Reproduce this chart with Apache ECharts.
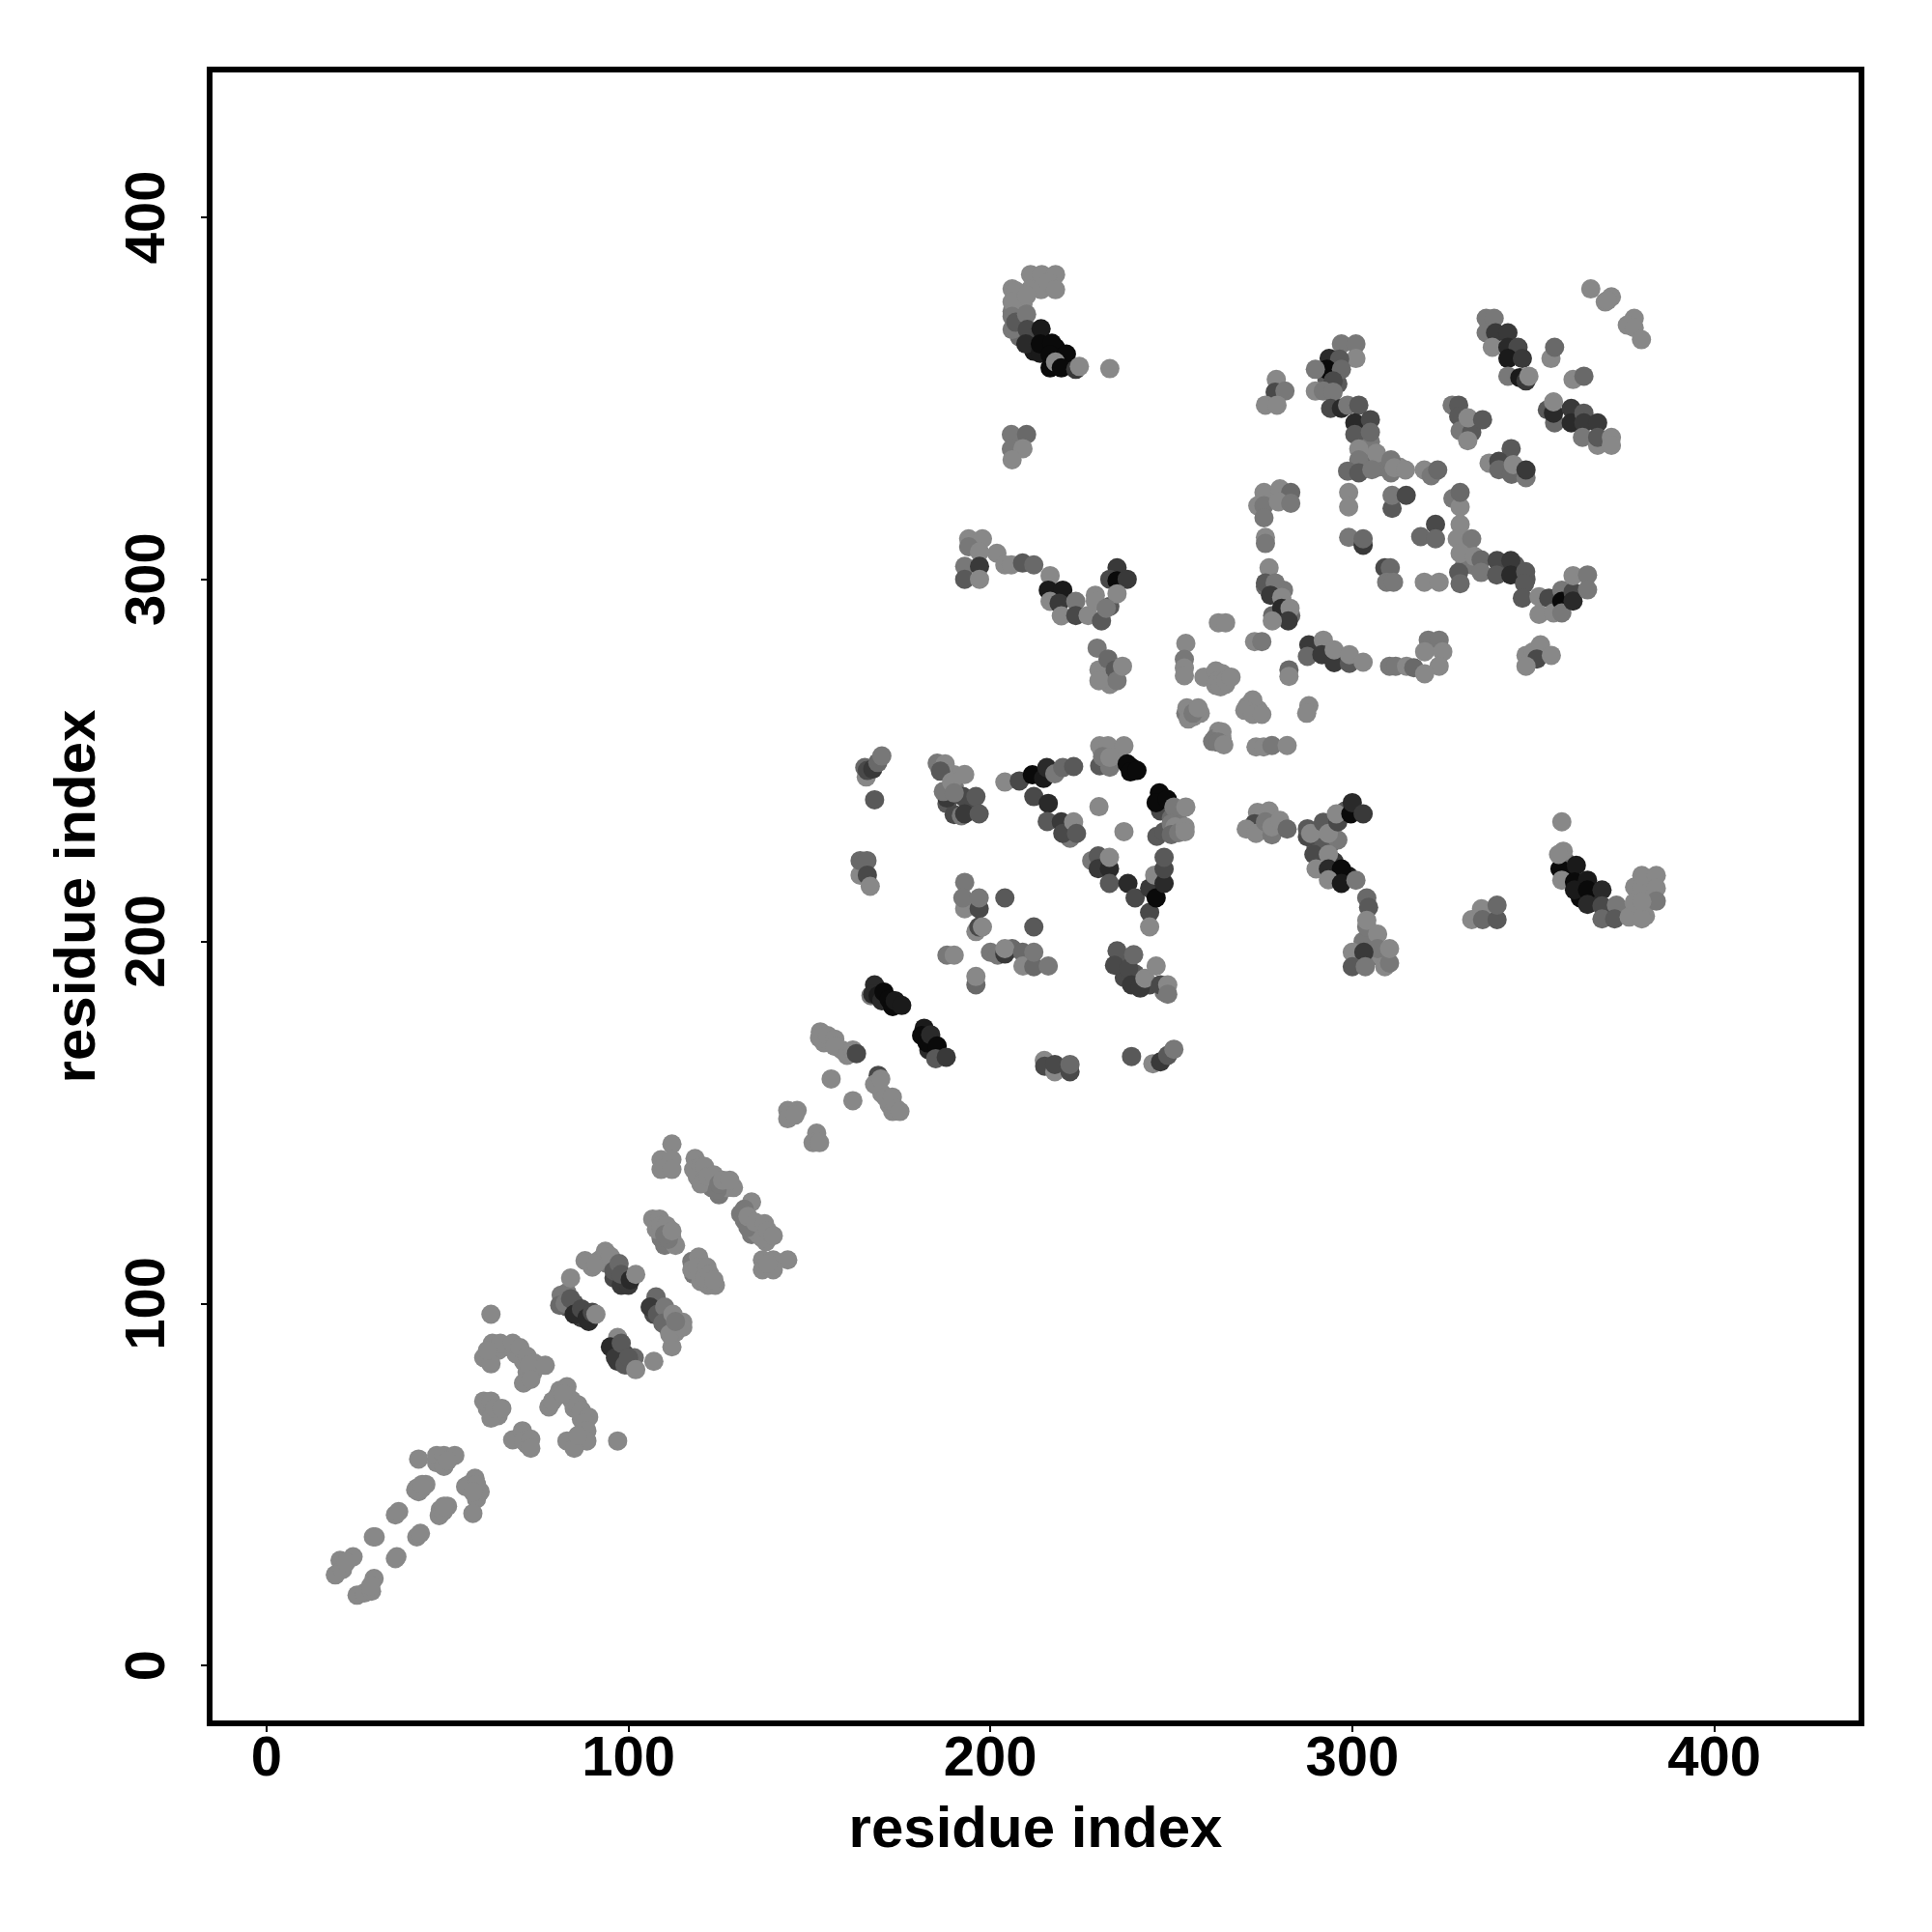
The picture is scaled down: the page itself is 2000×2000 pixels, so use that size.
<!DOCTYPE html>
<html>
<head>
<meta charset="utf-8">
<script src="https://cdn.jsdelivr.net/npm/echarts@6/dist/echarts.min.js"></script>
<style>html,body{margin:0;padding:0;background:#fff}#c{width:2000px;height:2000px}</style>
</head>
<body>
<div id="c"></div>
<script>
// each contact: [residue i, residue j, strength 0 (weak, grey) .. 8 (strong, black)]
const overlapped = [[47,56,0],[50,57,0],[42,48,0],[43,49,0],[48,43,0],[56,50,0],[58,46,0],[64,87,0],[66,88,0],[69,86,0],[71,84,0],[72,81,0],[73,83,0],[61,71,0],[64,69,0],[70,63,0],[72,61,0],[81,76,0],[85,71,0],[87,68,0],[88,66,0],[87,63,0],[83,103,1],[83,99,3],[85,100,3],[87,96,5],[89,95,6],[90,110,0],[92,112,0],[94,111,1],[96,107,4],[98,105,5],[100,105,5],[96,87,5],[97,84,5],[99,86,4],[100,83,3],[107,97,4],[109,96,3],[111,93,1],[113,92,0],[108,122,0],[109,118,1],[110,116,1],[112,118,0],[113,116,0],[118,108,1],[120,109,0],[120,106,0],[122,105,0],[124,105,0],[119,135,0],[121,134,1],[123,132,1],[125,130,1],[127,132,0],[129,132,0],[132,123,1],[134,119,1],[135,120,0],[136,119,0],[138,117,0],[154,172,0],[159,170,0],[170,158,0],[172,155,0],[209,376,0],[206,374,1],[208,367,2],[212,367,6],[212,363,7],[218,364,8],[221,359,8],[207,338,1],[259,273,0],[263,273,0],[264,272,0],[264,274,0],[265,271,0],[254,263,1],[255,262,0],[256,262,0],[258,263,0],[271,265,0],[272,264,0],[273,264,0],[274,264,0],[263,256,0],[264,256,0],[263,258,0],[262,256,1],[281,293,3],[278,290,2],[279,297,2],[281,297,1],[283,290,2],[276,298,2],[304,335,1],[303,332,2],[307,331,1],[309,331,1],[313,331,0],[305,338,1],[293,355,3],[296,354,3],[331,309,0],[332,308,0],[333,304,1],[335,303,1],[331,304,1],[342,303,3],[345,304,3],[348,300,3],[290,229,3],[291,231,1],[294,227,3],[296,228,1],[298,236,3],[290,226,3],[295,222,5],[295,219,7],[299,218,7],[378,215,0],[378,208,0],[382,213,0],[383,216,0],[375,208,0],[381,207,0],[359,219,8],[359,222,2],[363,212,8],[367,212,6],[371,208,4],[231,252,2],[232,249,3],[235,252,0],[239,248,8],[247,240,8],[247,236,4],[250,234,2],[246,229,3],[252,233,1],[303,200,1],[306,196,1],[308,196,0],[309,193,0],[236,194,3],[240,191,3],[244,188,4],[237,190,4],[248,186,1],[190,243,1],[188,238,3],[190,235,4],[194,238,4],[190,246,0],[200,197,1],[206,198,2]];
const helixStart = [[19,25,0],[20.3,29,0],[21,26.5,0],[23.9,30,0],[22,28.5,0],[25,19.4,0],[27,20,0],[29,20.5,0],[29.7,24,0],[28.8,22,0],[35.6,29.5,0],[36,30,0],[29.5,35.5,0],[30,35.5,0],[35.6,41.6,0],[36.5,42.5,0],[41.5,35.5,0],[42.5,36.5,0],[42,57,0],[47,58,0],[49,58,0],[52,58,0],[49,55,0],[50,56.5,0],[41.6,49,0],[44,50,0],[41.2,48.5,0],[43,50,0],[47.7,41.4,0],[50,44,0],[48.8,42.5,0],[49,44,0],[57,42,0],[57.6,51.7,0],[55,49.4,0],[59,48,0],[58,50,0],[57,48,0]];
const blockA = [[62,97,0],[62.4,89,0],[64.6,89,0],[60,85,0],[62,83.3,0],[61,87,0],[68,89,0],[70,87.8,0],[72,85.4,0],[74,83.5,0],[71,78,0],[73.5,80.7,0],[72.5,83,0],[73,79,0],[77,82.9,0],[60,73,0],[62,73,0],[62,68.3,0],[63,71,0],[65,71,0],[68,62.3,0],[70.7,64.8,0],[71,62,0],[73,62.5,0],[73,60,0],[83,77,0],[80.5,74.6,0],[78,71.4,0],[79,73,0],[84.3,73.3,0],[82,75,0],[86,72,0],[87,70.4,0],[89,68.6,0],[88,67,0],[88.5,64.8,0],[88.5,62,0],[83,62,0],[85,60,0],[86,63.5,0],[97,62,0]];
const blockB = [[84,107,0],[81.4,102.3,1],[81,99.5,2],[82.5,100,1],[84,101.3,3],[85,97,6],[87,98.5,4],[88.5,96,6],[90,97.5,4],[91,97,0],[88,111.8,0],[91,111,0],[93.6,114.4,0],[95,113,0],[96,109,3],[97.4,111,2],[99,106.5,5],[98,108,3],[100.5,106.5,6],[102,108,0],[97,90.6,0],[95,88,6],[96.4,85,5],[98,89,3],[99,83,3],[101.6,85,2],[100,85,3],[102,81.7,0],[107,84,0],[107.6,101.8,2],[106,99,5],[108,97,3],[110,99,1],[109.5,94.5,2],[112.3,97,0],[112,88,0],[111.4,91.5,0],[115,94.8,0],[115,93.4,0],[113,95,1]];
const blockC = [[106.7,123.3,0],[108.6,123.3,0],[107.7,120.5,0],[109,121.5,0],[110.5,121.5,0],[111,117.7,1],[110,119,1],[112,120,0],[117.5,111.6,1],[119.4,112.8,0],[117.5,109.3,0],[119,110,0],[121,107,0],[121.7,110,0],[122.5,108,0],[123.6,106.5,0],[112,144,0],[109,139.7,0],[112,139.7,0],[109,137,0],[112,137,0],[118.4,140,0],[118,137,0],[120,133,0],[120,138,0],[121,137.8,0],[122,135,0],[124.5,131.3,1],[123.6,135.5,0],[125,133,1],[126,134,0],[128,134,0],[134,128,0],[131,124.7,1],[132,126,1],[133,121,1],[133,124,0],[135,122.4,0],[137,118,0],[137.6,122,0],[138.5,120,0],[140,118.7,0],[137,112,0],[140,112,0],[144,112,0],[137,109.3,0],[140,109.3,0],[138.5,111,0]];
const blockD = [[144,153.3,0],[146.6,153.3,0],[144,151,0],[146,152,0],[152,147,0],[151,144.4,0],[152.8,144.4,0],[156,162,0],[162,156,0],[153,175,0],[152.8,173.3,0],[155,174,0],[157,173,0],[157,171,0],[160.4,168.5,0],[162,170,0],[163,169,4],[169,163,4],[168,160.5,0],[169.7,162,0],[171,157,0],[172.9,157,0],[173,153,0],[174,153.8,0],[175,153,0]];
const darkBars = [[167,185,1],[168,188,6],[167.5,185.4,6],[169,185,7],[170,183.6,6],[170.6,186,8],[172,184,8],[173,182,8],[173.7,183.6,7],[175.5,182.3,7],[181.7,176,7],[181,174,8],[183,170,6],[182.5,172,8],[183.5,174.2,6],[185.3,171.1,8],[184.9,167.6,3],[187.8,168,5]];
const upperA = [[165.7,245.4,0],[165.3,248,2],[166,247.2,4],[167.5,247.6,5],[168.9,249.4,2],[170,251.2,1],[168,239.1,3],[185.3,249.2,1],[187.5,249,0],[186.2,247,3],[192.9,246.1,0],[188,239.6,5],[192.4,240,4],[196,240,3],[192,234.7,1],[192.9,235.2,5],[196.9,235.2,3],[187,241.4,1],[189.3,244,0],[190,241,1],[204,244,0],[208,244.3,4],[211.6,246,8],[214.7,245,7],[215.6,248,6],[217.8,246.3,1],[220,248,2],[223,248.3,3],[212,240,4],[216,238.1,6],[215.7,233.1,3],[219.6,233,5],[222,228.5,1],[220,229.8,4],[223,233,0],[223.8,229.8,3],[230,237.2,0],[236.9,230.3,0]];
const upperB = [[230.2,248.5,3],[230.2,254,0],[232.5,254,0],[236.9,254,0],[231,251,1],[233,248.1,1],[233,250.8,0],[237.8,249,8],[238.7,246.8,8],[240.5,247.2,8],[246.7,241,8],[245.8,238.3,8],[248.9,239.2,8],[250.7,237.1,1],[254,237.1,0],[248,230.3,3],[250,232.5,1],[251,231.6,0],[250,229.5,2],[252,230,1],[253.8,231.6,0],[253.8,230.3,0],[228,222.3,1],[229.8,223.6,3],[229.8,220.1,5],[232.9,220.1,6],[232.9,223.2,0],[232.9,216,3],[238,216,6],[240,212,4],[244,208,4],[244,204,0],[244,214.7,5],[245.4,218.3,0],[245.8,212,8],[248,216,6],[248,220,4],[248,223.2,3]];
const midCluster = [[192.9,216.3,1],[192.9,209,0],[192.4,212,1],[196.9,209,4],[196.9,212,1],[204,212,3],[212,204,3],[196,202.7,0],[196.8,204,4],[197.8,204,0],[188,196.2,1],[190,196.2,0],[196,188,2],[196,190.3,0],[202,196.2,1],[204,196.5,5],[204,198,0],[208.9,197,2],[209,193.2,0],[212,193,2],[212,197,1],[216,193.2,1],[235,197.4,3],[234.3,193.4,4],[238.2,192.5,4],[239.6,196.3,2],[239,188,5],[241.4,187.1,5],[242.7,189.8,0],[245.8,193.2,0],[247,188,4],[249,188,0],[249,185.4,1],[164,218.3,0],[164,222.3,2],[165.9,222.3,2],[166,218.3,4],[166.8,215.2,0],[214.9,167.1,0],[215,165.5,4],[217.8,164,0],[217.8,166,4],[222,164,4],[222,166,2],[239,168.2,3],[244.9,166.2,0],[247,166.7,5],[249,168.5,3],[250.7,170.2,1]];
const topLeft = [[211.1,384.2,0],[214.2,384.2,0],[218,384.2,0],[211,380,0],[214,380,0],[216,382,0],[218,380,0],[206,380.2,0],[207,379.7,0],[206,376.6,0],[210,378.4,0],[206,372.6,1],[206,369,1],[207,371,3],[210,373.2,1],[210.2,369,4],[209.8,365,6],[214,369.2,7],[213.8,362.4,7],[213.8,365,8],[217,365.2,8],[216.5,362,8],[221,362.2,8],[216.5,358.4,8],[218,360,0],[219.6,358.4,8],[223.6,358,5],[224.6,358.8,0],[233,358.2,0],[205.8,340,1],[210,340,2],[205.8,336,1],[209,336.1,0],[206,333,0]];
const midLeft = [[194,311.2,0],[197.8,311.2,0],[194,309,1],[201.8,307.2,0],[197,307.6,0],[192.9,303.6,1],[197,303.6,5],[192.9,300,3],[197,300,0],[204,304,0],[205.8,304,0],[208.9,304.5,3],[212,304,2],[216.5,301,0],[216,297,7],[220,297,7],[216.5,293.9,0],[219,293.4,5],[223.6,293.9,1],[219.6,289.9,0],[223.6,290,4],[229,295.6,0],[227,290,0],[229,293.9,0],[230.7,288.5,3],[233,292.5,3],[235,303.2,5],[233,300,4],[235,299.6,8],[237.8,300,5],[235,296,0],[232,292,1],[233,271,0],[229.5,281,1],[230,275,0],[230,272,0],[232.5,278,2],[234.5,275,3],[235,272,1],[236.5,276,0]];
const ridge = [[279,355.2,0],[278.7,351.7,4],[281.4,352,1],[276,348.1,0],[279.2,348.1,0],[275.6,324,0],[280,325,0],[283,324,2],[273.9,320.3,0],[275.6,320.3,1],[279.6,321.4,0],[283,321,1],[275.6,317,1],[276,311.6,0],[276,309.9,1],[277,303.2,0],[276,299,3],[278.7,299,1],[277.4,295.6,5],[280.5,295,0],[280.5,292,6],[282.8,292,0],[282.3,288.5,5],[277.9,288.5,0]];
const diamond = [[263,288,0],[265,288,0],[254,282.3,0],[253.6,277.9,1],[253.6,275.5,0],[253.6,273.4,0],[273,282.8,0],[275,282.8,1],[262.3,274.7,0],[263,272,0],[262.3,270.7,0],[263.6,270.3,0],[265,272,0],[266.5,273,0],[282.5,275,2],[282.5,273.2,0],[254.3,264.5,0],[254.7,261.4,0],[256,263,1],[257.4,264.5,0],[272.5,266.7,0],[270.3,263.8,0],[272.5,262.7,0],[275,262.7,0],[288,265.1,0],[287.4,263,0],[264,257.8,0],[261.4,255.2,1],[263,255,1],[264.5,254.3,0],[273.4,253.7,0],[275.5,253.7,0],[277.8,254.1,1],[282,254.1,0]];
const rightBand = [[288,281.9,5],[287.6,278.7,2],[292,283.2,0],[291.6,279.2,5],[295,277,5],[295,280.5,0],[299.2,276.8,3],[299.2,279.2,0],[303,277.1,0],[310.3,276,1],[312,276,1],[315,276,0],[317,275.6,2],[321,283.2,1],[324,283.2,1],[320,280,0],[325,280,0],[324,276,0],[320,273.9,0],[348,279,0],[350,280,0],[352,281.9,0],[351,278,4],[355,279,0],[348,276,0],[273.8,235.6,0],[277,236,0],[273,232.5,4],[270.7,231,0],[273.4,229.8,0],[276,233,1],[277.8,229.4,1],[277.8,231.6,0],[280,233.4,0],[282,231,2]];
const lowerRight = [[287.6,228.9,4],[287.6,231.1,3],[288.5,229.8,0],[292,232.9,3],[293.4,229.8,0],[296,233,4],[295.6,235.2,0],[299.6,235.2,8],[300,238.3,6],[303,235.2,5],[289.4,224,4],[293.4,224,0],[290,220,0],[293.4,220,6],[297,220,8],[293.4,217,0],[297,216,7],[301,216.9,1],[304,212,2],[304.5,209.4,3],[304,204,1],[304,205.8,0],[307,202,0],[307,198,1],[310.3,194,1],[310.3,198,0],[300,197,0],[303.2,197,5],[300,193,3],[303.6,193,1],[333,206,0],[335.7,209,0],[336,206,2],[340,206,3],[340,210,2],[357.9,233,0],[357.4,220,8],[357.9,216.9,0],[358.3,224.9,0],[357,224,0],[361.9,221,7],[361.4,216.4,8],[365,216.9,7],[361.4,214.2,7],[365,214.2,8],[369,214.2,6],[365,210.2,6],[369,209.8,4],[373,210,1],[369,206.2,2],[372.5,206.2,3],[376.5,206.7,0],[380,206.2,0],[377.9,210.7,0],[380,214.7,0],[380,218.2,0],[384,218.2,0],[384,214.7,0],[384,211.1,1],[380,211,0]];
const crossA = [[297,365,1],[301,365,1],[301,361,0],[293.6,361,6],[296.5,360.8,3],[293,358,8],[297,358,2],[289.8,358,1],[294.7,354.8,4],[289.8,352,0],[292,352,1],[294.7,351.7,1],[294,347.2,4],[297,347.2,6],[298.7,348.1,1],[301.8,348.1,3],[300.7,343.2,6],[305,344.1,4],[300.7,340,3],[305,340.6,2],[301.8,336,0],[306.7,334.8,0],[301.8,333,1],[298.7,329.9,2],[301.8,329.4,3],[305.4,330.3,1],[310.7,329.4,1],[310.7,333,1],[311.6,330.8,0],[314.7,330.2,0],[319.9,330.2,0],[321.8,328.6,1],[323.6,330.2,2],[299,324,0],[299,320,0],[311,319.6,3],[311,323.2,1],[314.9,323.2,4],[327.8,322.3,1],[329.8,320,0],[329.8,324,2],[299,311.6,1],[303,309.4,5],[303,311.2,2],[323,315.2,4],[318.9,311.8,2],[323,311.2,2],[309,303.2,4],[310.5,303.2,2],[309.5,299.2,1],[311.4,299.2,1],[319.9,299.2,0],[324,299.2,0]];
const crossB = [[329.4,301.9,3],[329.8,298.8,2],[329.8,315.2,0],[329,311.2,0],[333,311.2,1],[329.8,307.2,0],[333.8,306.3,0],[335.6,305.4,2],[335.6,301.9,1],[340,305.2,4],[343.8,305.2,5],[339.9,301.2,3],[343.8,301.2,6],[347.9,302.1,3],[347.6,298.8,3],[347,294.8,3],[351.6,290.3,0],[351.6,295.2,0],[354.3,294.8,4],[355.6,290.7,0],[357.9,297,1],[357.9,293.9,8],[357.9,290.7,1],[361,296.5,4],[361,294,6],[361,301,0],[365,301.2,1],[365,297.1,1]];
const topRight = [[365.9,380.2,0],[369.9,376.6,0],[371.6,378,0],[370.5,377,0],[377.9,372.1,0],[376,370.2,0],[377.9,369.5,0],[379.9,366.2,0],[337,372.1,1],[339.2,372.1,1],[337,368.1,1],[339.6,368.1,5],[343,368.1,5],[338.7,364.1,0],[343,364.1,6],[345.8,364.1,4],[343,361,7],[347,361,5],[343,356.1,1],[346.3,355.7,7],[348,354.8,5],[348.8,356.1,0],[354.9,361,0],[355.9,364.1,2],[361,355.2,0],[364,356.1,2],[353.9,346.8,3],[355.9,343.2,2],[355.6,345.9,6],[355.6,349,0],[360.5,347.2,5],[360.5,343.2,6],[364,345.9,3],[364,343.2,5],[367.8,343.2,5],[363.6,339.2,1],[367.8,337,0],[367.8,339.2,3],[371.6,339.2,0],[371.6,337,0],[327.6,348.1,1],[329.4,348.1,3],[329.4,345,3],[329.8,341,1],[333,340.6,3],[331.9,338.3,0],[332,344.6,0],[336,344.1,3],[343.9,336.1,3],[337.8,332.1,0],[340.5,332.6,4],[340.5,330.3,2],[344,329,2],[344.5,331.7,0],[348,328.1,1],[348,330.2,5]];

const tickValues = [0, 100, 200, 300, 400];
const axisName = 'residue index';

const contacts = [].concat(overlapped, helixStart, blockA, blockB, blockC, blockD, darkBars, upperA, upperB, midCluster, topLeft, midLeft, ridge, diamond, rightBand, lowerRight, crossA, crossB, topRight);

const font = '"Liberation Sans", Arial, sans-serif';
const axisBase = {
  type: 'value',
  nameLocation: 'middle',
  name: axisName,
  nameTextStyle: { fontFamily: font, fontWeight: 'bold', fontSize: 60, color: '#000' },
  axisLine: { show: false, onZero: false },
  axisTick: { show: true, customValues: tickValues, length: 9, lineStyle: { color: '#000', width: 2 } },
  splitLine: { show: false },
  axisPointer: { show: false }
};
const labelBase = { show: true, customValues: tickValues, fontFamily: font, fontWeight: 'bold', fontSize: 58, color: '#000' };

const chart = echarts.init(document.getElementById('c'), null, { renderer: 'canvas' });
chart.setOption({
  animation: false,
  backgroundColor: '#fff',
  grid: { show: true, left: 217, top: 72, width: 1710, height: 1712, borderColor: '#000', borderWidth: 6, backgroundColor: 'transparent' },
  xAxis: Object.assign({}, axisBase, {
    min: -15.74, max: 440.7, nameGap: 81,
    axisLabel: Object.assign({}, labelBase, { margin: 9 })
  }),
  yAxis: Object.assign({}, axisBase, {
    min: -16.0, max: 440.8, nameGap: 106,
    axisLabel: Object.assign({}, labelBase, { rotate: 90, margin: 34 })
  }),
  visualMap: { show: false, type: 'continuous', dimension: 2, min: 0, max: 8, seriesIndex: 0, inRange: { color: ['#888888', '#0a0a0a'] } },
  series: [{
    type: 'scatter',
    symbol: 'circle',
    symbolSize: 20,
    itemStyle: { opacity: 1 },
    data: contacts,
    clip: false,
    large: false,
    progressive: 0,
    emphasis: { disabled: true }
  }]
});
</script>
</body>
</html>
